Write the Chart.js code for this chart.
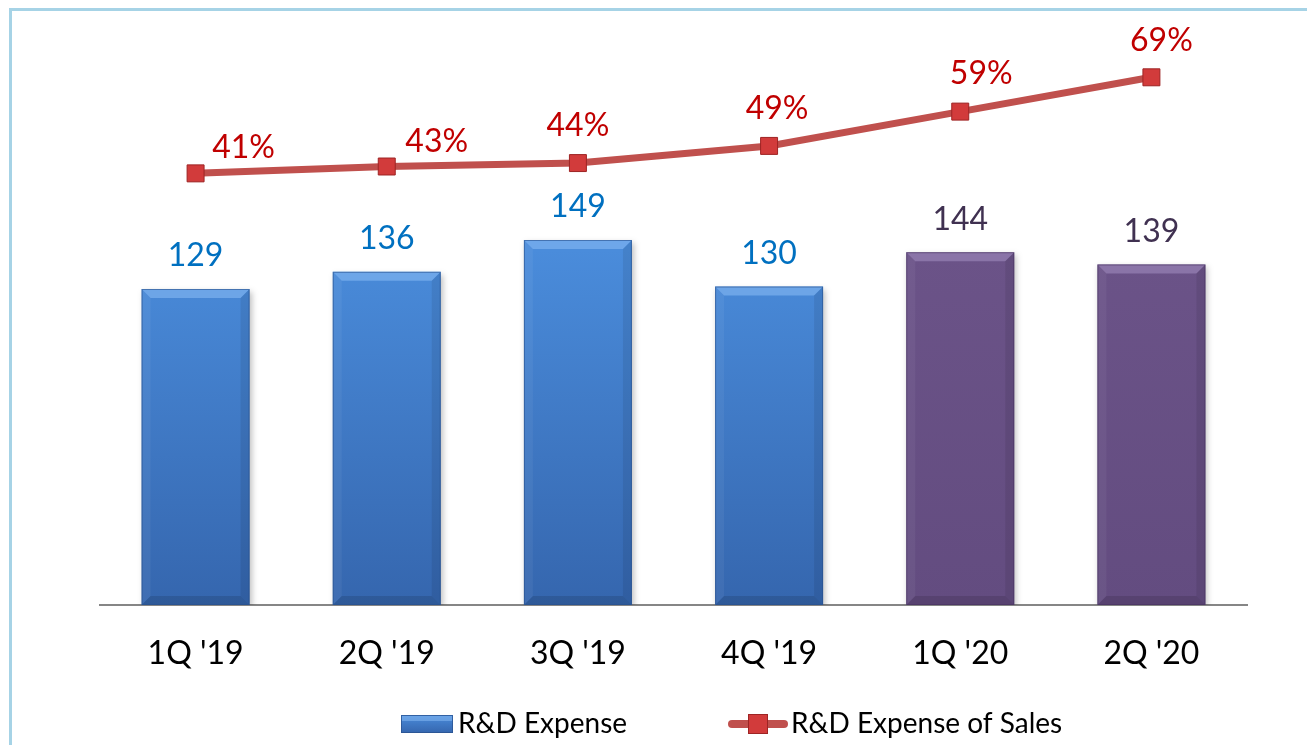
<!DOCTYPE html>
<html><head><meta charset="utf-8">
<script src="https://cdn.jsdelivr.net/npm/chart.js@4"></script>
<style>
html,body{margin:0;padding:0;background:#fff;overflow:hidden;width:1307px;height:745px}
#frame{position:absolute;left:9px;top:8px;width:1400px;height:800px;border-left:3px solid #A6D3E6;border-top:3px solid #A6D3E6;}
#c{position:absolute;left:0;top:0}
</style></head>
<body><div id="frame"></div><canvas id="c" width="1307" height="745"></canvas>
<script>
const categories = ["1Q '19", "2Q '19", "3Q '19", "4Q '19", "1Q '20", "2Q '20"];
const rdExpense = [129, 136, 149, 130, 144, 139];
const rdPctOfSales = [41, 43, 44, 49, 59, 69];
const seriesNames = ["R&D Expense", "R&D Expense of Sales"];

// styling
const FONT = "Lato, 'Open Sans', sans-serif";
const barKinds = ['blue','blue','blue','blue','purple','purple'];
const barLabelColors = { blue: '#0070C0', purple: '#403151' };
const lineLabelOffsets = [[48,-26],[50,-25],[0,-37],[8,-37],[21,-38],[10,-37]];

function barGradient(ctx, kind, top, bottom) {
  const g = ctx.createLinearGradient(0, top, 0, bottom);
  if (kind === 'blue') { g.addColorStop(0, '#4A8CDB'); g.addColorStop(1, '#3566AE'); }
  else { g.addColorStop(0, '#6B5388'); g.addColorStop(1, '#634C80'); }
  return g;
}

const bevelPlugin = {
  id: 'bevel',
  beforeDatasetDraw(chart, args) {
    if (args.index !== 0) return;
    const ctx = chart.ctx;
    ctx.save();
    ctx.shadowColor = 'rgba(0,0,0,0.25)';
    ctx.shadowBlur = 6;
    ctx.shadowOffsetX = 2;
    ctx.shadowOffsetY = 3;
  },
  afterDatasetDraw(chart, args) {
    if (args.index !== 0) return;
    const ctx = chart.ctx;
    ctx.restore();
    const meta = chart.getDatasetMeta(0);
    meta.data.forEach((el, i) => {
      const kind = barKinds[i];
      const l = el.x - el.width/2, r = el.x + el.width/2, t = el.y, b = el.base;
      const d = 9;
      ctx.save();
      ctx.beginPath();
      ctx.moveTo(l, t); ctx.lineTo(r, t); ctx.lineTo(r-d, t+d); ctx.lineTo(l+d, t+d); ctx.closePath();
      ctx.fillStyle = kind === 'blue' ? 'rgba(140,190,245,0.55)' : 'rgba(170,150,200,0.5)';
      ctx.fill();
      ctx.beginPath();
      ctx.moveTo(l, t); ctx.lineTo(l+d, t+d); ctx.lineTo(l+d, b-d); ctx.lineTo(l, b); ctx.closePath();
      ctx.fillStyle = 'rgba(255,255,255,0.05)';
      ctx.fill();
      ctx.beginPath();
      ctx.moveTo(r, t); ctx.lineTo(r-d, t+d); ctx.lineTo(r-d, b-d); ctx.lineTo(r, b); ctx.closePath();
      ctx.fillStyle = 'rgba(0,0,0,0.08)';
      ctx.fill();
      ctx.beginPath();
      ctx.moveTo(l, b); ctx.lineTo(l+d, b-d); ctx.lineTo(r-d, b-d); ctx.lineTo(r, b); ctx.closePath();
      ctx.fillStyle = 'rgba(0,0,0,0.12)';
      ctx.fill();
      ctx.strokeStyle = kind === 'blue' ? 'rgba(40,80,140,0.6)' : 'rgba(70,50,95,0.6)';
      ctx.lineWidth = 1;
      ctx.strokeRect(l+0.5, t+0.5, el.width-1, b-t-1);
      ctx.restore();
    });
  }
};

const labelsPlugin = {
  id: 'valueLabels',
  afterDatasetsDraw(chart) {
    const ctx = chart.ctx;
    ctx.save();
    ctx.font = `32px ${FONT}`;
    ctx.textAlign = 'center';
    ctx.textBaseline = 'middle';
    chart.getDatasetMeta(0).data.forEach((el, i) => {
      ctx.fillStyle = barLabelColors[barKinds[i]];
      ctx.fillText(String(chart.data.datasets[0].data[i]), el.x, el.y - 33);
    });
    ctx.fillStyle = '#C00000';
    chart.getDatasetMeta(1).data.forEach((el, i) => {
      const o = lineLabelOffsets[i];
      ctx.fillText(chart.data.datasets[1].data[i] + '%', el.x + o[0], el.y + o[1]);
    });
    ctx.restore();
  }
};

const legendPlugin = {
  id: 'customLegend',
  afterDraw(chart) {
    const ctx = chart.ctx;
    const cy = 724;
    ctx.save();
    ctx.fillStyle = barGradient(ctx, 'blue', cy-9, cy+9);
    ctx.fillRect(401, cy-9, 52, 18);
    ctx.strokeStyle = 'rgba(40,80,140,0.7)';
    ctx.lineWidth = 1;
    ctx.strokeRect(401.5, cy-8.5, 51, 17);
    ctx.fillStyle = 'rgba(140,190,245,0.5)';
    ctx.fillRect(402, cy-8, 50, 5);
    ctx.font = `28px ${FONT}`;
    ctx.fillStyle = '#000';
    ctx.textAlign = 'left';
    ctx.textBaseline = 'middle';
    ctx.fillText(chart.data.datasets[0].label, 458, cy);
    ctx.strokeStyle = '#C0504D';
    ctx.lineWidth = 8;
    ctx.lineCap = 'round';
    ctx.beginPath(); ctx.moveTo(732, cy); ctx.lineTo(784, cy); ctx.stroke();
    ctx.fillStyle = '#D23B3B';
    ctx.fillRect(748, cy-10, 20, 20);
    ctx.strokeStyle = '#9E2424'; ctx.lineWidth = 1;
    ctx.strokeRect(748.5, cy-9.5, 19, 19);
    ctx.fillStyle = '#000';
    ctx.fillText(chart.data.datasets[1].label, 791, cy);
    ctx.restore();
  }
};

const ctx = document.getElementById('c').getContext('2d');
new Chart(ctx, {
  data: {
    labels: categories,
    datasets: [
      {
        type: 'bar',
        label: seriesNames[0],
        data: rdExpense,
        yAxisID: 'y',
        backgroundColor: (c) => {
          const ch = c.chart;
          if (!ch.chartArea) return '#3F7CC8';
          return barGradient(ch.ctx, barKinds[c.dataIndex], ch.chartArea.top + 230, ch.chartArea.bottom);
        },
        borderWidth: 0,
        barPercentage: 0.565,
        categoryPercentage: 1,
        order: 2
      },
      {
        type: 'line',
        label: seriesNames[1],
        data: rdPctOfSales,
        yAxisID: 'y2',
        borderColor: '#C0504D',
        borderWidth: 7,
        tension: 0,
        pointStyle: 'rect',
        pointRadius: 12,
        pointBackgroundColor: '#D23B3B',
        pointBorderColor: '#9E2424',
        pointBorderWidth: 1,
        order: 1
      }
    ]
  },
  options: {
    responsive: false,
    animation: false,
    layout: { padding: { left: 100, right: 60, top: 20, bottom: 0 } },
    plugins: { legend: { display: false }, tooltip: { enabled: false } },
    scales: {
      x: {
        grid: { display: false, drawTicks: false },
        border: { display: true, color: '#868686', width: 2 },
        ticks: { font: { family: FONT, size: 32 }, color: '#000', padding: 29 },
        afterFit(s) { s.height = 140; }
      },
      y: { display: false, min: 0, max: 238.8 },
      y2: { display: false, position: 'right', min: -84.8, max: 85.7 }
    }
  },
  plugins: [bevelPlugin, labelsPlugin, legendPlugin]
});
</script>
</body></html>
